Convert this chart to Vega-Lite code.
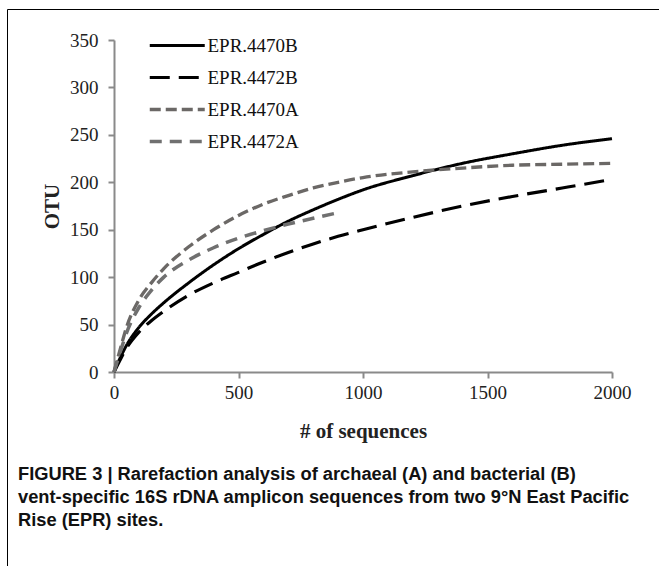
{
  "$schema": "https://vega.github.io/schema/vega-lite/v6.json",
  "width": 652,
  "height": 557,
  "autosize": {"type": "none"},
  "padding": {"left": 7, "top": 9, "right": 0, "bottom": 0},
  "background": "white",
  "config": {"view": {"stroke": "#000000", "strokeWidth": 1}},
  "title": {
    "text": ["FIGURE 3 | Rarefaction analysis of archaeal (A) and bacterial (B)", "vent-specific 16S rDNA amplicon sequences from two 9°N East Pacific", "Rise (EPR) sites."],
    "orient": "top",
    "anchor": "start",
    "frame": "group",
    "font": "Liberation Sans",
    "fontSize": 18.3,
    "fontWeight": "bold",
    "color": "#111111",
    "lineHeight": 23,
    "baseline": "top",
    "offset": 0,
    "dx": 11,
    "dy": 521
  },
  "data": {
    "values": [
      {"series": "EPR.4470B", "x": 0, "otu": 0},
      {"series": "EPR.4470B", "x": 25, "otu": 15},
      {"series": "EPR.4470B", "x": 50, "otu": 28},
      {"series": "EPR.4470B", "x": 100, "otu": 47},
      {"series": "EPR.4470B", "x": 150, "otu": 61},
      {"series": "EPR.4470B", "x": 200, "otu": 73},
      {"series": "EPR.4470B", "x": 300, "otu": 94},
      {"series": "EPR.4470B", "x": 400, "otu": 113},
      {"series": "EPR.4470B", "x": 500, "otu": 130},
      {"series": "EPR.4470B", "x": 600, "otu": 145},
      {"series": "EPR.4470B", "x": 700, "otu": 159},
      {"series": "EPR.4470B", "x": 800, "otu": 171},
      {"series": "EPR.4470B", "x": 900, "otu": 182},
      {"series": "EPR.4470B", "x": 1000, "otu": 192},
      {"series": "EPR.4470B", "x": 1200, "otu": 207},
      {"series": "EPR.4470B", "x": 1400, "otu": 220},
      {"series": "EPR.4470B", "x": 1600, "otu": 230},
      {"series": "EPR.4470B", "x": 1800, "otu": 239},
      {"series": "EPR.4470B", "x": 2000, "otu": 246},
      {"series": "EPR.4472B", "x": 0, "otu": 0},
      {"series": "EPR.4472B", "x": 25, "otu": 13},
      {"series": "EPR.4472B", "x": 50, "otu": 25},
      {"series": "EPR.4472B", "x": 100, "otu": 42},
      {"series": "EPR.4472B", "x": 150, "otu": 54},
      {"series": "EPR.4472B", "x": 200, "otu": 64},
      {"series": "EPR.4472B", "x": 300, "otu": 81},
      {"series": "EPR.4472B", "x": 400, "otu": 94},
      {"series": "EPR.4472B", "x": 500, "otu": 105},
      {"series": "EPR.4472B", "x": 600, "otu": 116},
      {"series": "EPR.4472B", "x": 700, "otu": 126},
      {"series": "EPR.4472B", "x": 800, "otu": 135},
      {"series": "EPR.4472B", "x": 900, "otu": 143},
      {"series": "EPR.4472B", "x": 1000, "otu": 150},
      {"series": "EPR.4472B", "x": 1200, "otu": 163},
      {"series": "EPR.4472B", "x": 1400, "otu": 175},
      {"series": "EPR.4472B", "x": 1600, "otu": 185},
      {"series": "EPR.4472B", "x": 1800, "otu": 194},
      {"series": "EPR.4472B", "x": 2000, "otu": 203},
      {"series": "EPR.4470A", "x": 0, "otu": 0},
      {"series": "EPR.4470A", "x": 25, "otu": 24},
      {"series": "EPR.4470A", "x": 50, "otu": 47},
      {"series": "EPR.4470A", "x": 100, "otu": 76},
      {"series": "EPR.4470A", "x": 150, "otu": 94},
      {"series": "EPR.4470A", "x": 200, "otu": 109},
      {"series": "EPR.4470A", "x": 300, "otu": 132},
      {"series": "EPR.4470A", "x": 400, "otu": 150},
      {"series": "EPR.4470A", "x": 500, "otu": 165},
      {"series": "EPR.4470A", "x": 600, "otu": 177},
      {"series": "EPR.4470A", "x": 700, "otu": 186},
      {"series": "EPR.4470A", "x": 800, "otu": 194},
      {"series": "EPR.4470A", "x": 900, "otu": 200},
      {"series": "EPR.4470A", "x": 1000, "otu": 205},
      {"series": "EPR.4470A", "x": 1200, "otu": 211},
      {"series": "EPR.4470A", "x": 1400, "otu": 215},
      {"series": "EPR.4470A", "x": 1600, "otu": 218},
      {"series": "EPR.4470A", "x": 1800, "otu": 219},
      {"series": "EPR.4470A", "x": 2000, "otu": 220},
      {"series": "EPR.4472A", "x": 0, "otu": 0},
      {"series": "EPR.4472A", "x": 25, "otu": 21},
      {"series": "EPR.4472A", "x": 50, "otu": 41},
      {"series": "EPR.4472A", "x": 100, "otu": 68},
      {"series": "EPR.4472A", "x": 150, "otu": 86},
      {"series": "EPR.4472A", "x": 200, "otu": 100},
      {"series": "EPR.4472A", "x": 300, "otu": 118},
      {"series": "EPR.4472A", "x": 400, "otu": 131},
      {"series": "EPR.4472A", "x": 500, "otu": 141},
      {"series": "EPR.4472A", "x": 600, "otu": 149},
      {"series": "EPR.4472A", "x": 700, "otu": 156},
      {"series": "EPR.4472A", "x": 800, "otu": 162},
      {"series": "EPR.4472A", "x": 900, "otu": 168}
    ]
  },
  "mark": {"type": "line", "strokeCap": "butt", "interpolate": "monotone"},
  "encoding": {
    "x": {
      "field": "x",
      "type": "quantitative",
      "scale": {"domain": [0, 2000], "range": [107, 605], "nice": false, "zero": false},
      "axis": {
        "offset": -194,
        "values": [0, 500, 1000, 1500, 2000],
        "format": "d",
        "grid": false,
        "labelFlush": false,
        "labelOverlap": false,
        "domainColor": "#8a8a8a",
        "domainWidth": 2,
        "tickColor": "#8a8a8a",
        "tickWidth": 2,
        "tickSize": 6,
        "labelFont": "Liberation Serif",
        "labelFontSize": 19,
        "labelColor": "#222222",
        "labelPadding": 5,
        "title": "# of sequences",
        "titleFont": "Liberation Serif",
        "titleFontSize": 21,
        "titleFontWeight": "bold",
        "titleColor": "#222222",
        "titlePadding": 18
      }
    },
    "y": {
      "field": "otu",
      "type": "quantitative",
      "scale": {"domain": [0, 350], "range": [363, 31], "nice": false, "zero": false},
      "axis": {
        "offset": -107,
        "values": [0, 50, 100, 150, 200, 250, 300, 350],
        "format": "d",
        "grid": false,
        "labelFlush": false,
        "labelOverlap": false,
        "domainColor": "#8a8a8a",
        "domainWidth": 2,
        "tickColor": "#8a8a8a",
        "tickWidth": 2,
        "tickSize": 6,
        "labelFont": "Liberation Serif",
        "labelFontSize": 19,
        "labelColor": "#222222",
        "labelPadding": 10,
        "title": "OTU",
        "titleFont": "Liberation Serif",
        "titleFontSize": 21,
        "titleFontWeight": "bold",
        "titleColor": "#222222",
        "titlePadding": 7
      }
    },
    "color": {
      "field": "series",
      "type": "nominal",
      "scale": {
        "domain": ["EPR.4470B", "EPR.4472B", "EPR.4470A", "EPR.4472A"],
        "range": ["#000000", "#000000", "#6b6866", "#707070"]
      },
      "legend": {
        "title": null,
        "orient": "none",
        "legendX": 141,
        "legendY": 21,
        "symbolType": "M-1,0H3",
        "symbolSize": 756,
        "labelFont": "Liberation Serif",
        "labelFontSize": 19,
        "labelColor": "#111111",
        "labelOffset": 28.5,
        "rowPadding": 6
      }
    },
    "strokeDash": {
      "field": "series",
      "type": "nominal",
      "scale": {
        "domain": ["EPR.4470B", "EPR.4472B", "EPR.4470A", "EPR.4472A"],
        "range": [[1, 0], [20, 9], [11, 5], [12, 8]]
      },
      "legend": {
        "title": null,
        "orient": "none",
        "legendX": 141,
        "legendY": 21,
        "symbolType": "M-1,0H3",
        "symbolSize": 756,
        "labelFont": "Liberation Serif",
        "labelFontSize": 19,
        "labelColor": "#111111",
        "labelOffset": 28.5,
        "rowPadding": 6
      }
    },
    "strokeWidth": {
      "field": "series",
      "type": "nominal",
      "scale": {
        "domain": ["EPR.4470B", "EPR.4472B", "EPR.4470A", "EPR.4472A"],
        "range": [3, 3.5, 4.5, 3.5]
      },
      "legend": {
        "title": null,
        "orient": "none",
        "legendX": 141,
        "legendY": 21,
        "symbolType": "M-1,0H3",
        "symbolSize": 756,
        "labelFont": "Liberation Serif",
        "labelFontSize": 19,
        "labelColor": "#111111",
        "labelOffset": 28.5,
        "rowPadding": 6
      }
    }
  }
}
